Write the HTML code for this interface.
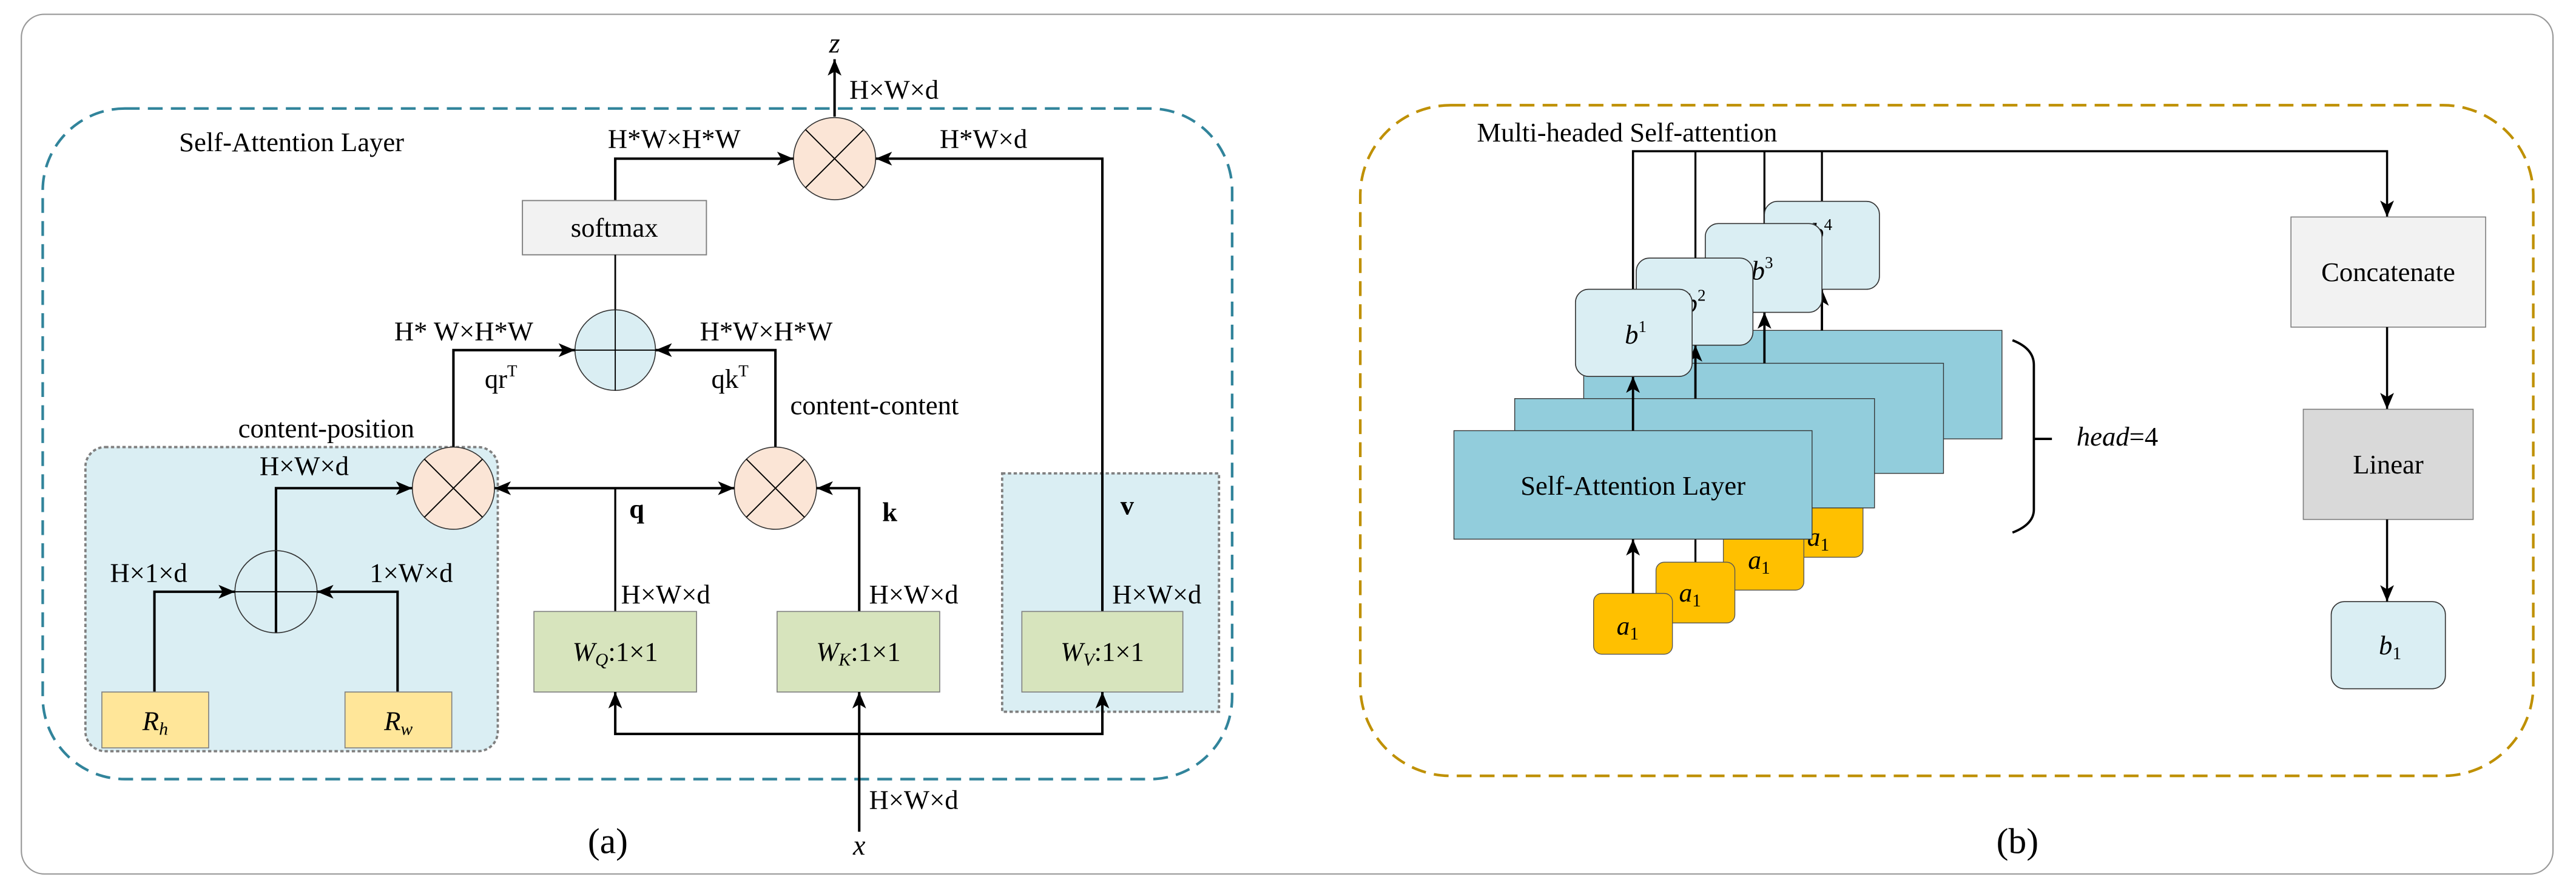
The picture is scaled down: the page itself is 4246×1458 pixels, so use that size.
<!DOCTYPE html>
<html><head><meta charset="utf-8"><style>
html,body{margin:0;padding:0;background:#fff;}
svg{display:block;font-family:"Liberation Serif","Times New Roman",serif;}
svg text{font-family:"Liberation Serif","Times New Roman",serif !important;fill:#000;}
</style></head><body>
<svg width="4246" height="1458" viewBox="0 0 1568 538.4" xmlns="http://www.w3.org/2000/svg" font-family="Liberation Serif, serif">
<defs>
<marker id="ar" markerUnits="userSpaceOnUse" markerWidth="10" markerHeight="10" viewBox="0 0 10 10" refX="10" refY="5" orient="auto-start-reverse">
<path d="M0,0.8 L10,5 L0,9.2 L2.5,5 Z" fill="#000"/></marker>
</defs>
<rect x="0" y="0" width="1568" height="538.4" fill="#fff"/>
<rect x="13" y="8.7" width="1541" height="523" rx="14" fill="none" stroke="#999" stroke-width="0.8"/>

<!-- ============ (a) ============ -->
<rect x="26" y="66" width="724" height="408" rx="50" fill="none" stroke="#31849b" stroke-width="1.6" stroke-dasharray="9,5"/>
<text x="109" y="92" font-size="16.5">Self-Attention Layer</text>

<rect x="52" y="272" width="251" height="185" rx="12" fill="#daeef3" stroke="#7f7f7f" stroke-width="1.4" stroke-dasharray="2,1.5"/>
<rect x="610" y="288" width="132" height="145" fill="#daeef3" stroke="#7f7f7f" stroke-width="1.4" stroke-dasharray="2,1.5"/>

<line x1="508" y1="71" x2="508" y2="36" stroke="#000" stroke-width="1.5" marker-end="url(#ar)"/>
<text x="508" y="32" font-size="17" font-style="italic" text-anchor="middle">z</text>
<text x="517" y="60" font-size="16.5">H×W×d</text>
<circle cx="508" cy="96.5" r="25" fill="#fbe5d6" stroke="#333" stroke-width="0.6"/>
<line x1="490.3" y1="78.8" x2="525.7" y2="114.2" stroke="#000" stroke-width="0.7"/>
<line x1="525.7" y1="78.8" x2="490.3" y2="114.2" stroke="#000" stroke-width="0.7"/>
<polyline points="374.5,122 374.5,96.5 483,96.5" fill="none" stroke="#000" stroke-width="1.5" marker-end="url(#ar)"/>
<text x="370" y="90" font-size="16.5">H*W×H*W</text>
<polyline points="671,372 671,96.5 533,96.5" fill="none" stroke="#000" stroke-width="1.5" marker-end="url(#ar)"/>
<text x="572" y="90" font-size="16.5">H*W×d</text>

<rect x="318" y="122" width="112" height="33" fill="#f2f2f2" stroke="#7f7f7f" stroke-width="0.7"/>
<text x="374" y="144" font-size="16.5" text-anchor="middle">softmax</text>
<line x1="374.5" y1="155" x2="374.5" y2="189" stroke="#000" stroke-width="1"/>

<circle cx="374.5" cy="213" r="24.5" fill="#daeef3" stroke="#333" stroke-width="0.6"/>
<line x1="350" y1="213" x2="399" y2="213" stroke="#000" stroke-width="0.7"/>
<line x1="374.5" y1="188.5" x2="374.5" y2="237.5" stroke="#000" stroke-width="0.7"/>
<polyline points="276,272 276,213 350,213" fill="none" stroke="#000" stroke-width="1.5" marker-end="url(#ar)"/>
<polyline points="472,272 472,213 399,213" fill="none" stroke="#000" stroke-width="1.5" marker-end="url(#ar)"/>
<text x="240" y="207" font-size="16.5">H* W×H*W</text>
<text x="426" y="207" font-size="16.5">H*W×H*W</text>
<text x="295" y="236" font-size="16.5">qr<tspan font-size="10" dy="-7">T</tspan></text>
<text x="433" y="236" font-size="16.5">qk<tspan font-size="10" dy="-7">T</tspan></text>
<text x="481" y="252" font-size="16.5">content-content</text>
<text x="145" y="266" font-size="16.5">content-position</text>

<circle cx="276" cy="297" r="25" fill="#fbe5d6" stroke="#333" stroke-width="0.6"/>
<line x1="258.3" y1="279.3" x2="293.7" y2="314.7" stroke="#000" stroke-width="0.7"/>
<line x1="293.7" y1="279.3" x2="258.3" y2="314.7" stroke="#000" stroke-width="0.7"/>
<circle cx="472" cy="297" r="25" fill="#fbe5d6" stroke="#333" stroke-width="0.6"/>
<line x1="454.3" y1="279.3" x2="489.7" y2="314.7" stroke="#000" stroke-width="0.7"/>
<line x1="489.7" y1="279.3" x2="454.3" y2="314.7" stroke="#000" stroke-width="0.7"/>

<polyline points="168,385 168,297 251,297" fill="none" stroke="#000" stroke-width="1.5" marker-end="url(#ar)"/>
<text x="158" y="289" font-size="16.5">H×W×d</text>
<ellipse cx="168" cy="360" rx="25" ry="25" fill="none" stroke="#333" stroke-width="0.6"/>
<line x1="143" y1="360" x2="193" y2="360" stroke="#000" stroke-width="0.7"/>
<polyline points="94,421 94,360 143,360" fill="none" stroke="#000" stroke-width="1.5" marker-end="url(#ar)"/>
<polyline points="242,421 242,360 193,360" fill="none" stroke="#000" stroke-width="1.5" marker-end="url(#ar)"/>
<text x="67" y="354" font-size="16.5">H×1×d</text>
<text x="225" y="354" font-size="16.5">1×W×d</text>
<rect x="62" y="421" width="65" height="34" fill="#ffe699" stroke="#7f7f7f" stroke-width="0.6"/>
<text x="94.5" y="444" font-size="16.5" font-style="italic" text-anchor="middle">R<tspan font-size="11" dy="3">h</tspan></text>
<rect x="210" y="421" width="65" height="34" fill="#ffe699" stroke="#7f7f7f" stroke-width="0.6"/>
<text x="242.5" y="444" font-size="16.5" font-style="italic" text-anchor="middle">R<tspan font-size="11" dy="3">w</tspan></text>

<line x1="374.5" y1="372" x2="374.5" y2="297" stroke="#000" stroke-width="1.2"/>
<line x1="301" y1="297" x2="447" y2="297" stroke="#000" stroke-width="1.5" marker-start="url(#ar)" marker-end="url(#ar)"/>
<polyline points="523,372 523,297 497,297" fill="none" stroke="#000" stroke-width="1.5" marker-end="url(#ar)"/>
<text x="383" y="315" font-size="16.5" font-weight="bold">q</text>
<text x="537" y="317" font-size="16.5" font-weight="bold">k</text>
<text x="682" y="313" font-size="16.5" font-weight="bold">v</text>
<text x="378" y="367" font-size="16.5">H×W×d</text>
<text x="529" y="367" font-size="16.5">H×W×d</text>
<text x="677" y="367" font-size="16.5">H×W×d</text>

<rect x="325" y="372" width="99" height="49" fill="#d7e4bd" stroke="#7f7f7f" stroke-width="0.6"/>
<text x="374.5" y="402" font-size="16.5" text-anchor="middle"><tspan font-style="italic">W<tspan font-size="11" dy="3">Q</tspan></tspan><tspan dy="-3">:1×1</tspan></text>
<rect x="473" y="372" width="99" height="49" fill="#d7e4bd" stroke="#7f7f7f" stroke-width="0.6"/>
<text x="522.5" y="402" font-size="16.5" text-anchor="middle"><tspan font-style="italic">W<tspan font-size="11" dy="3">K</tspan></tspan><tspan dy="-3">:1×1</tspan></text>
<rect x="622" y="372" width="98" height="49" fill="#d7e4bd" stroke="#7f7f7f" stroke-width="0.6"/>
<text x="671" y="402" font-size="16.5" text-anchor="middle"><tspan font-style="italic">W<tspan font-size="11" dy="3">V</tspan></tspan><tspan dy="-3">:1×1</tspan></text>

<polyline points="374.5,421 374.5,446.5 671,446.5 671,421" fill="none" stroke="#000" stroke-width="1.5" marker-start="url(#ar)" marker-end="url(#ar)"/>
<line x1="523" y1="506" x2="523" y2="421" stroke="#000" stroke-width="1.5" marker-end="url(#ar)"/>
<text x="529" y="492" font-size="16.5">H×W×d</text>
<text x="523" y="520" font-size="17" font-style="italic" text-anchor="middle">x</text>
<text x="370" y="519" font-size="22" text-anchor="middle">(a)</text>

<!-- ============ (b) ============ -->
<rect x="828" y="64" width="714" height="408" rx="55" fill="none" stroke="#bf9000" stroke-width="1.6" stroke-dasharray="9,5"/>
<text x="899" y="86" font-size="16.5">Multi-headed Self-attention</text>

<polyline points="994,176 994,92 1453,92 1453,132" fill="none" stroke="#000" stroke-width="1.3" marker-end="url(#ar)"/>
<line x1="1032" y1="92" x2="1032" y2="157" stroke="#000" stroke-width="1.2"/>
<line x1="1074" y1="92" x2="1074" y2="136" stroke="#000" stroke-width="1.2"/>
<line x1="1109" y1="92" x2="1109" y2="122.5" stroke="#000" stroke-width="1.2"/>

<rect x="1085" y="302" width="49" height="37" rx="5" fill="#ffc000" stroke="#555" stroke-width="0.5"/>
<text x="1100" y="332" font-size="16" font-style="italic">a<tspan font-size="11" font-style="normal" dy="3">1</tspan></text>
<rect x="1049" y="322" width="49" height="37" rx="5" fill="#ffc000" stroke="#555" stroke-width="0.5"/>
<text x="1064" y="346" font-size="16" font-style="italic">a<tspan font-size="11" font-style="normal" dy="3">1</tspan></text>
<line x1="1032" y1="342" x2="1032" y2="320" stroke="#000" stroke-width="1.2"/>
<rect x="1008" y="342" width="48" height="37" rx="5" fill="#ffc000" stroke="#555" stroke-width="0.5"/>
<text x="1022" y="366" font-size="16" font-style="italic">a<tspan font-size="11" font-style="normal" dy="3">1</tspan></text>
<rect x="970" y="361" width="48" height="37" rx="5" fill="#ffc000" stroke="#555" stroke-width="0.5"/>
<text x="984" y="386" font-size="16" font-style="italic">a<tspan font-size="11" font-style="normal" dy="3">1</tspan></text>

<rect x="965" y="201" width="253.6" height="66" fill="#92cddc" stroke="#333" stroke-width="0.5"/>
<rect x="964" y="221" width="219" height="67" fill="#92cddc" stroke="#333" stroke-width="0.5"/>
<rect x="922" y="242.5" width="219" height="66.5" fill="#92cddc" stroke="#333" stroke-width="0.5"/>
<rect x="885" y="262" width="218" height="66" fill="#92cddc" stroke="#333" stroke-width="0.5"/>
<text x="994" y="301" font-size="16.5" text-anchor="middle">Self-Attention Layer</text>
<line x1="994" y1="361" x2="994" y2="328" stroke="#000" stroke-width="1.4" marker-end="url(#ar)"/>

<line x1="1109" y1="201" x2="1109" y2="176" stroke="#000" stroke-width="1.4" marker-end="url(#ar)"/>
<line x1="1074" y1="221" x2="1074" y2="190" stroke="#000" stroke-width="1.4" marker-end="url(#ar)"/>
<line x1="1032" y1="242.5" x2="1032" y2="210" stroke="#000" stroke-width="1.4" marker-end="url(#ar)"/>
<line x1="994" y1="262" x2="994" y2="229" stroke="#000" stroke-width="1.4" marker-end="url(#ar)"/>

<rect x="1074" y="122.5" width="70" height="53.5" rx="8" fill="#daeef3" stroke="#333" stroke-width="0.6"/>
<text x="1102" y="147" font-size="16.5" font-style="italic">b<tspan font-size="10" font-style="normal" dy="-7">4</tspan></text>
<rect x="1038" y="136" width="71" height="54" rx="8" fill="#daeef3" stroke="#333" stroke-width="0.6"/>
<text x="1066" y="170" font-size="16.5" font-style="italic">b<tspan font-size="10" font-style="normal" dy="-7">3</tspan></text>
<rect x="996" y="157" width="71" height="53" rx="8" fill="#daeef3" stroke="#333" stroke-width="0.6"/>
<text x="1025" y="190" font-size="16.5" font-style="italic">b<tspan font-size="10" font-style="normal" dy="-7">2</tspan></text>
<rect x="959" y="176" width="71" height="53" rx="8" fill="#daeef3" stroke="#333" stroke-width="0.6"/>
<text x="989" y="209" font-size="16.5" font-style="italic">b<tspan font-size="10" font-style="normal" dy="-7">1</tspan></text>

<path d="M1225,207 Q1238,212 1238,222 L1238,310 Q1238,319 1225,324" fill="none" stroke="#000" stroke-width="1.4"/>
<line x1="1238" y1="267" x2="1249" y2="267" stroke="#000" stroke-width="1.4"/>
<text x="1264" y="271" font-size="16.5"><tspan font-style="italic">head</tspan>=4</text>

<rect x="1394.5" y="132" width="118.5" height="67" fill="#f2f2f2" stroke="#7f7f7f" stroke-width="0.6"/>
<text x="1453.7" y="171" font-size="16.5" text-anchor="middle">Concatenate</text>
<line x1="1453" y1="199" x2="1453" y2="249" stroke="#000" stroke-width="1.3" marker-end="url(#ar)"/>
<rect x="1402" y="249" width="103.4" height="67" fill="#d9d9d9" stroke="#7f7f7f" stroke-width="0.6"/>
<text x="1453.7" y="288" font-size="16.5" text-anchor="middle">Linear</text>
<line x1="1453" y1="316" x2="1453" y2="366" stroke="#000" stroke-width="1.3" marker-end="url(#ar)"/>
<rect x="1419" y="366" width="69.5" height="53" rx="8" fill="#daeef3" stroke="#333" stroke-width="0.6"/>
<text x="1448" y="398" font-size="16.5" font-style="italic">b<tspan font-size="11" font-style="normal" dy="3">1</tspan></text>

<text x="1228" y="519" font-size="22" text-anchor="middle">(b)</text>
</svg>
</body></html>
